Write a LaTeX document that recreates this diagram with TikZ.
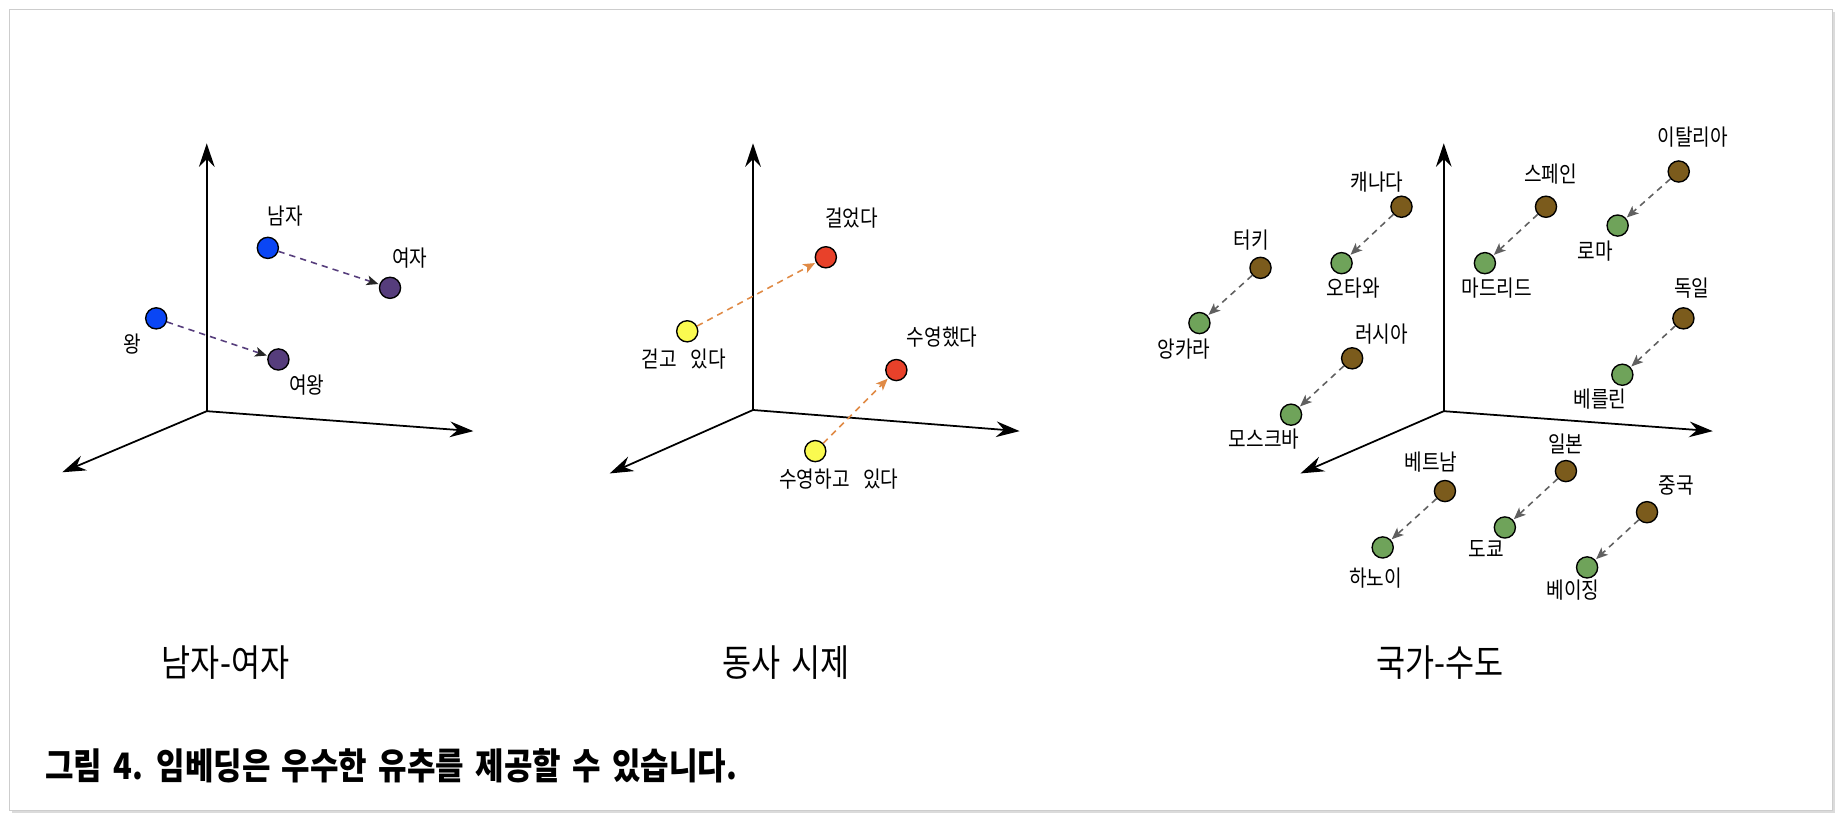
\documentclass[tikz,border=0pt]{standalone}
\usepackage{fontspec}
\newfontfamily\kr[FakeStretch=0.85]{Noto Sans CJK KR}
\newfontfamily\krcap[FakeStretch=0.85,WordSpace=1.6]{Noto Sans CJK KR}
\usetikzlibrary{arrows.meta}
\definecolor{cblue}{RGB}{10,70,245}
\definecolor{cpurple}{RGB}{86,61,124}
\definecolor{cyellow}{RGB}{250,250,80}
\definecolor{cred}{RGB}{232,65,42}
\definecolor{corange}{RGB}{224,138,69}
\definecolor{cbrown}{RGB}{123,91,28}
\definecolor{cgreen}{RGB}{111,163,90}
\definecolor{cgray}{RGB}{96,96,96}
\definecolor{frame}{RGB}{205,205,205}
\tikzset{
  dot/.style={circle,draw=black,line width=0.7pt,minimum size=10.8pt,inner sep=0pt},
  lbl/.style={font=\kr\fontsize{11.5}{12}\selectfont,inner sep=0pt},
  ttl/.style={font=\kr\fontsize{19}{21}\selectfont,inner sep=0pt},
  axis/.style={line width=0.9pt,-{Stealth[length=12pt,width=8pt,inset=4pt]}},
  link/.style={dashed,dash pattern=on 3.2pt off 2.6pt,line width=0.8pt,shorten >=0.5pt},
  linkp/.style={link,cpurple,-{Stealth[length=6pt,width=5pt,inset=1.5pt,color=black!85]}},
  linko/.style={link,corange,-{Stealth[length=6pt,width=5pt,inset=1.5pt]}},
  linkg/.style={link,cgray,-{Stealth[length=6pt,width=5pt,inset=1.5pt]}},
}
\begin{document}
\begin{tikzpicture}[x=0.6pt,y=-0.6pt]
\useasboundingbox (0,0) rectangle (1568,698);
% frame
\fill[black!14] (10,10) rectangle (1562,692);
\draw[frame,fill=white,line width=0.6pt] (8,8) rectangle (1560,690);

% ---------- Panel 1 ----------
\coordinate (o1) at (176,350);
\coordinate (u1) at (176,122);
\coordinate (r1) at (403,367);
\coordinate (l1) at (53,402);
\draw[axis] (o1) -- (u1);
\draw[axis] (o1) -- (r1);
\draw[axis] (o1) -- (l1);
\node[dot,fill=cblue] (man) at (228,211) {};
\node[dot,fill=cpurple] (woman) at (332,245) {};
\node[dot,fill=cblue] (king) at (133,271) {};
\node[dot,fill=cpurple] (queen) at (237,306) {};
\node[lbl] (lman) at (243,184) {남자};
\node[lbl] (lwoman) at (349,220) {여자};
\node[lbl] (lking) at (113,293) {왕};
\node[lbl] (lqueen) at (261,328) {여왕};
\draw[linkp] (man) -- (woman);
\draw[linkp] (king) -- (queen);
\node[ttl] (t1) at (192,564) {남자-여자};

% ---------- Panel 2 ----------
\coordinate (o2) at (641,349);
\coordinate (u2) at (641,122);
\coordinate (r2) at (868,367);
\coordinate (l2) at (519,403);
\draw[axis] (o2) -- (u2);
\draw[axis] (o2) -- (r2);
\draw[axis] (o2) -- (l2);
\node[dot,fill=cred] (walked) at (703,219) {};
\node[dot,fill=cyellow] (walking) at (585,282) {};
\node[dot,fill=cred] (swam) at (763,315) {};
\node[dot,fill=cyellow] (swimming) at (694,384) {};
\node[lbl] (lwalked) at (725,186) {걸었다};
\node[lbl] (lwalking) at (582,306) {걷고\hspace{0.6em}있다};
\node[lbl] (lswam) at (802,287) {수영했다};
\node[lbl] (lswimming) at (714,408) {수영하고\hspace{0.6em}있다};
\draw[linko] (walking) -- (walked);
\draw[linko] (swimming) -- (swam);
\node[ttl] (t2) at (669,564) {동사 시제};

% ---------- Panel 3 ----------
\coordinate (o3) at (1229,350);
\coordinate (u3) at (1229,122);
\coordinate (r3) at (1458,367);
\coordinate (l3) at (1107,403);
\draw[axis] (o3) -- (u3);
\draw[axis] (o3) -- (r3);
\draw[axis] (o3) -- (l3);
\node[dot,fill=cbrown] (italy) at (1429,146) {};
\node[dot,fill=cgreen] (rome) at (1377,192) {};
\node[dot,fill=cbrown] (spain) at (1316,176) {};
\node[dot,fill=cgreen] (madrid) at (1264,224) {};
\node[dot,fill=cbrown] (canada) at (1193,176) {};
\node[dot,fill=cgreen] (ottawa) at (1142,224) {};
\node[dot,fill=cbrown] (turkey) at (1073,228) {};
\node[dot,fill=cgreen] (ankara) at (1021,275) {};
\node[dot,fill=cbrown] (russia) at (1151,305) {};
\node[dot,fill=cgreen] (moscow) at (1099,353) {};
\node[dot,fill=cbrown] (germany) at (1433,271) {};
\node[dot,fill=cgreen] (berlin) at (1381,319) {};
\node[dot,fill=cbrown] (vietnam) at (1230,418) {};
\node[dot,fill=cgreen] (hanoi) at (1177,466) {};
\node[dot,fill=cbrown] (japan) at (1333,401) {};
\node[dot,fill=cgreen] (tokyo) at (1281,449) {};
\node[dot,fill=cbrown] (china) at (1402,436) {};
\node[dot,fill=cgreen] (beijing) at (1351,483) {};
\node[lbl] (litaly) at (1441,117) {이탈리아};
\node[lbl] (lrome) at (1358,214) {로마};
\node[lbl] (lspain) at (1320,148) {스페인};
\node[lbl] (lmadrid) at (1274,245) {마드리드};
\node[lbl] (lcanada) at (1172,155) {캐나다};
\node[lbl] (lottawa) at (1152,245) {오타와};
\node[lbl] (lturkey) at (1065,204) {터키};
\node[lbl] (lankara) at (1008,297) {앙카라};
\node[lbl] (lrussia) at (1176,284) {러시아};
\node[lbl] (lmoscow) at (1076,374) {모스크바};
\node[lbl] (lgermany) at (1440,245) {독일};
\node[lbl] (lberlin) at (1362,340) {베를린};
\node[lbl] (lvietnam) at (1218,393) {베트남};
\node[lbl] (lhanoi) at (1171,492) {하노이};
\node[lbl] (ljapan) at (1333,378) {일본};
\node[lbl] (ltokyo) at (1265,467) {도쿄};
\node[lbl] (lchina) at (1427,413) {중국};
\node[lbl] (lbeijing) at (1339,502) {베이징};
\draw[linkg] (italy) -- (rome);
\draw[linkg] (spain) -- (madrid);
\draw[linkg] (canada) -- (ottawa);
\draw[linkg] (turkey) -- (ankara);
\draw[linkg] (russia) -- (moscow);
\draw[linkg] (germany) -- (berlin);
\draw[linkg] (vietnam) -- (hanoi);
\draw[linkg] (japan) -- (tokyo);
\draw[linkg] (china) -- (beijing);
\node[ttl] (t3) at (1226,564) {국가-수도};

% ---------- caption ----------
\node[font=\krcap\bfseries\fontsize{18.6}{20}\selectfont,inner sep=0pt,anchor=west] (cap) at (38,652) {그림 4. 임베딩은 우수한 유추를 제공할 수 있습니다.};
\end{tikzpicture}
\end{document}
